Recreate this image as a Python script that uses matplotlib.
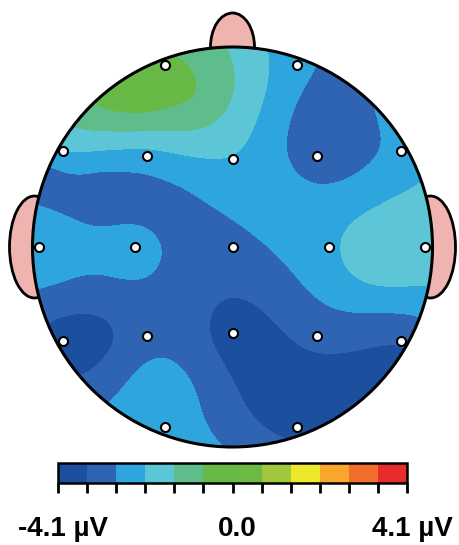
import numpy as np
import matplotlib.pyplot as plt
from matplotlib.colors import ListedColormap, BoundaryNorm
from matplotlib.patches import Circle, Ellipse
from matplotlib.transforms import ScaledTranslation
import matplotlib as mpl

# electrode layout (head units, nose up) and amplitudes (uV)
channels = ["Fp1", "Fp2", "F7", "F3", "Fz", "F4", "F8", "T3", "C3", "Cz", "C4", "T4",
            "T5", "P3", "Pz", "P4", "T6", "O1", "O2"]
pos_x = [-0.34, 0.32, -0.85, -0.43, 0.0, 0.42, 0.84, -0.97, -0.49, 0.0, 0.48, 0.96,
         -0.85, -0.43, 0.0, 0.42, 0.84, -0.34, 0.32]
pos_y = [0.91, 0.91, 0.48, 0.455, 0.44, 0.455, 0.48, 0.0, 0.0, 0.0, 0.0, 0.0,
         -0.47, -0.445, -0.43, -0.445, -0.47, -0.90, -0.90]
values = [-0.5, -2.5, -2.05, -2.3, -2.1, -3.1, -2.5, -2.2, -2.5, -3.0, -2.2, -1.6,
          -3.7, -3.0, -3.65, -3.2, -3.35, -2.3, -3.6]

# extra field samples
field_x = [-0.91, -0.64, -0.31, -0.49, -0.19, 0.51, 0.81, 0.21, -0.66, -0.36, 0.14, 0.74]
field_y = [0.375, 0.31, 0.21, 0.785, 0.76, 0.63, 0.71, 0.21, -0.44, -0.715, -0.765, -0.065]
field_v = [-2.85, -3.0, -2.95, -0.15, -0.7, -3.25, -2.45, -2.4, -3.6, -2.3, -3.6, -1.6]

vmin, vmax = -4.1, 4.1
colors = ["#1d4f9f", "#2e64b1", "#2ea5dd", "#5cc6d6", "#5fbd8c", "#67b844",
          "#6cba44", "#a0c83c", "#eee82a", "#f8a72a", "#f06d2b", "#e82b2b"]
levels = np.linspace(vmin, vmax, len(colors) + 1)
cmap = ListedColormap(colors)
norm = BoundaryNorm(levels, cmap.N)

# biharmonic spline interpolation (like topoplot v4)
xe = np.array(pos_x + field_x)
ye = np.array(pos_y + field_y)
ve = np.array(values + field_v)


def green(d):
    g = np.zeros_like(d)
    m = d > 0
    g[m] = d[m] ** 2 * (np.log(d[m]) - 1)
    return g


D = np.hypot(xe[:, None] - xe[None, :], ye[:, None] - ye[None, :])
w = np.linalg.solve(green(D), ve)

gx, gy = np.meshgrid(np.linspace(-1, 1, 500), np.linspace(-1, 1, 500))
Dg = np.hypot(gx[..., None] - xe, gy[..., None] - ye)
zi = green(Dg) @ w
zi = np.clip(zi, vmin, vmax)
zi = np.ma.masked_where(np.hypot(gx, gy) > 1.0, zi)

fig = plt.figure(figsize=(4.59, 5.45), dpi=100)
ax = fig.add_axes([0, 0, 1, 1])
ax.set_xlim(-232.5 / 200, (459 - 232.5) / 200)
ax.set_ylim(-298 / 200, 247 / 200)
ax.axis("off")

pink = "#f0b4b0"
# ears and nose
for sx in (-1, 1):
    ax.add_patch(Ellipse((sx * 0.99, 0.0), 0.25, 0.51, facecolor=pink,
                         edgecolor="black", lw=2, zorder=1))
ax.add_patch(Ellipse((0.0, 1.0), 0.22, 0.34, facecolor=pink,
                     edgecolor="black", lw=2, zorder=1))
ax.add_patch(Circle((0, 0), 1.0, facecolor="white", edgecolor="none", zorder=2))

cs = ax.contourf(gx, gy, zi, levels=levels, cmap=cmap, norm=norm, zorder=3)
clip = Circle((0, 0), 1.0, transform=ax.transData)
cs.set_clip_path(clip)
ax.add_patch(Circle((0, 0), 1.0, facecolor="none", edgecolor="black", lw=2.2, zorder=4))

ax.plot(pos_x, pos_y, "o", ms=6.5, mfc="white", mec="black", mew=1.5, zorder=5)

# colorbar
cax = fig.add_axes([58 / 459, 1 - 483 / 545, 349 / 459, 20 / 545])
sm = mpl.cm.ScalarMappable(norm=norm, cmap=cmap)
cb = fig.colorbar(sm, cax=cax, orientation="horizontal", ticks=[vmin, 0, vmax])
cb.outline.set_linewidth(1.8)
cb.ax.set_xticks(levels, minor=True)
cb.ax.tick_params(which="both", length=7, width=2, direction="out")
cb.ax.set_xticklabels(["-4.1 \u00b5V", "0.0", "4.1 \u00b5V"], fontsize=20,
                      fontweight="bold", family="Liberation Sans")
cb.ax.tick_params(which="major", pad=17)
shift = ScaledTranslation(5 / 100, 0, fig.dpi_scale_trans)
for lab in cb.ax.get_xticklabels():
    lab.set_transform(lab.get_transform() + shift)

fig.savefig("out.png", dpi=100)
